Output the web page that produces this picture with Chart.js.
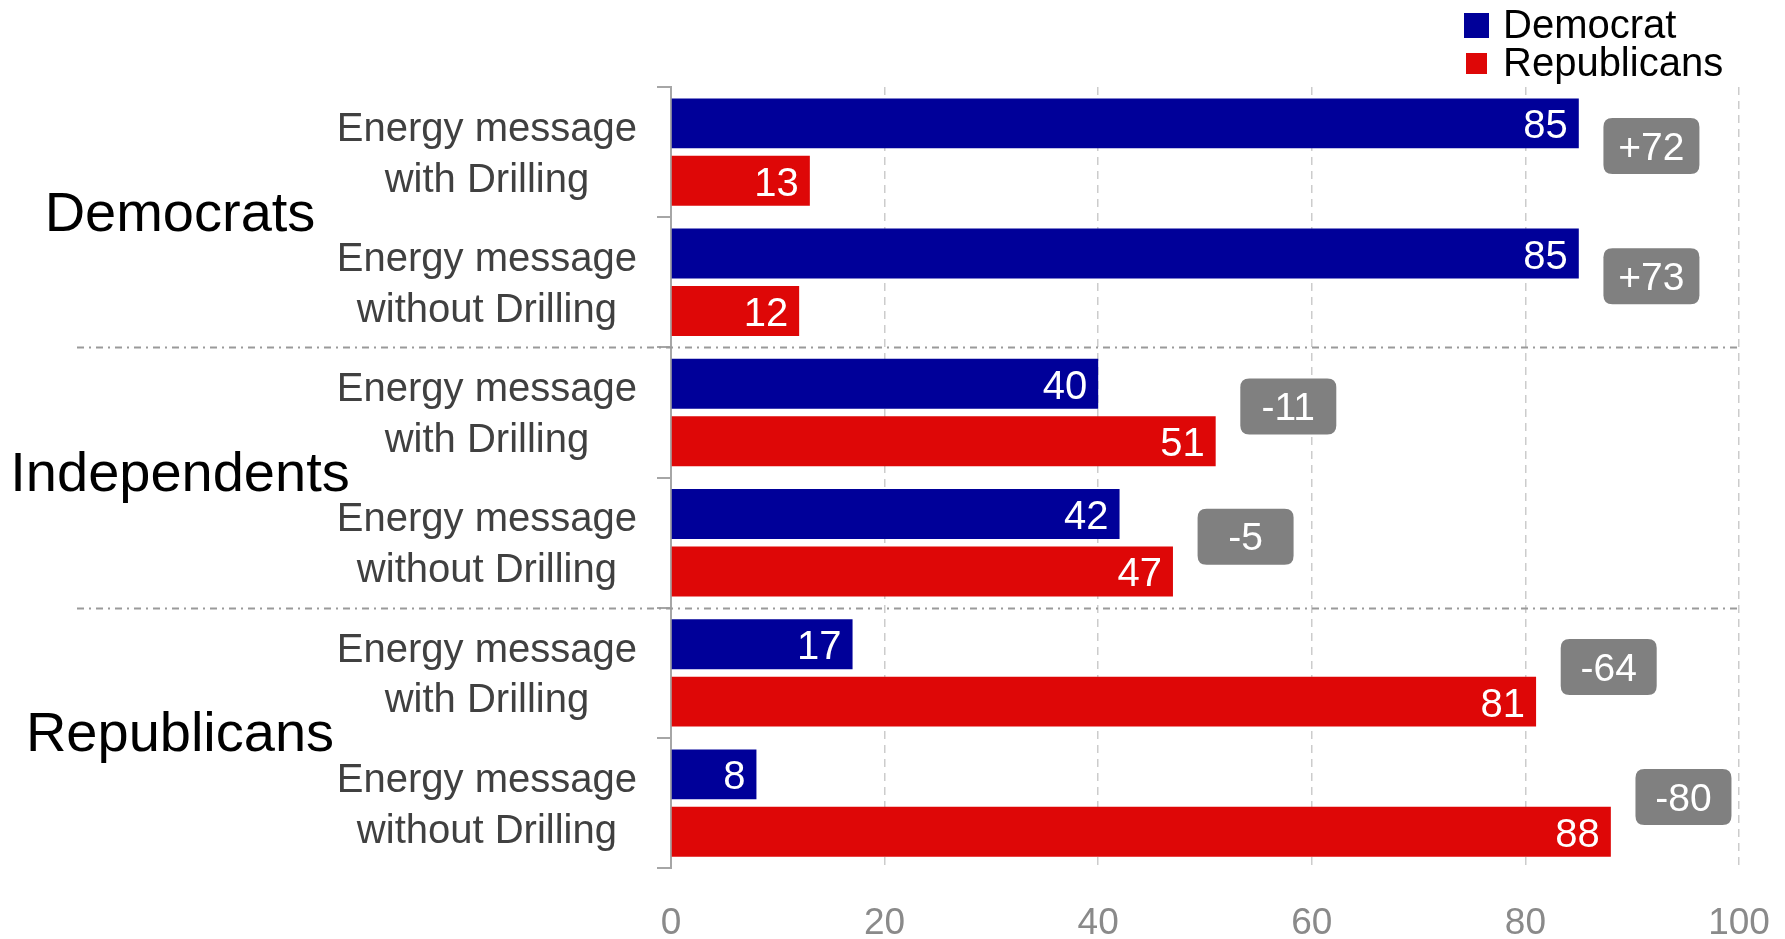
<!DOCTYPE html>
<html>
<head>
<meta charset="utf-8">
<script src="https://cdn.jsdelivr.net/npm/chart.js@4/dist/chart.umd.min.js"></script>
<style>
  html, body { margin: 0; padding: 0; background: #ffffff; }
  #wrap { width: 1785px; height: 939px; }
</style>
</head>
<body>
<div id="wrap"><canvas id="c" width="1785" height="939"></canvas></div>
<script>
// ---- data ----
const groups = ['Democrats', 'Independents', 'Republicans'];
const categories = [
  ['Energy message', 'with Drilling'],
  ['Energy message', 'without Drilling'],
  ['Energy message', 'with Drilling'],
  ['Energy message', 'without Drilling'],
  ['Energy message', 'with Drilling'],
  ['Energy message', 'without Drilling']
];
const seriesNames = ['Democrat', 'Republicans'];
const democratValues = [85, 85, 40, 42, 17, 8];
const republicanValues = [13, 12, 51, 47, 81, 88];
const xTickValues = [0, 20, 40, 60, 80, 100];

// ---- styling ----
const FONT = "'Liberation Sans', Arial, Helvetica, sans-serif";
const BLUE = '#000099';
const RED = '#DE0707';

function roundRect(ctx, x, y, w, h, r) {
  ctx.beginPath();
  ctx.moveTo(x + r, y);
  ctx.lineTo(x + w - r, y);
  ctx.quadraticCurveTo(x + w, y, x + w, y + r);
  ctx.lineTo(x + w, y + h - r);
  ctx.quadraticCurveTo(x + w, y + h, x + w - r, y + h);
  ctx.lineTo(x + r, y + h);
  ctx.quadraticCurveTo(x, y + h, x, y + h - r);
  ctx.lineTo(x, y + r);
  ctx.quadraticCurveTo(x, y, x + r, y);
  ctx.closePath();
}

const annotate = {
  id: 'annotate',
  afterDatasetsDraw(chart) {
    const ctx = chart.ctx;
    const xs = chart.scales.x, ys = chart.scales.y;
    const area = chart.chartArea;
    ctx.save();

    // values inside bars
    ctx.font = '40px ' + FONT;
    ctx.fillStyle = '#ffffff';
    ctx.textAlign = 'right';
    ctx.textBaseline = 'middle';
    chart.data.datasets.forEach((ds, di) => {
      chart.getDatasetMeta(di).data.forEach((bar, i) => {
        ctx.fillText(String(ds.data[i]), bar.x - 11, bar.y + 4);
      });
    });

    // difference boxes
    categories.forEach((c, i) => {
      const d = democratValues[i] - republicanValues[i];
      const label = (d > 0 ? '+' : '') + d;
      const cx = xs.getPixelForValue(Math.max(democratValues[i], republicanValues[i]) + 6.8);
      const cy = ys.getPixelForValue(i) - 6;
      ctx.fillStyle = '#808080';
      roundRect(ctx, cx - 48, cy - 28, 96, 56, 9);
      ctx.fill();
      ctx.fillStyle = '#ffffff';
      ctx.font = '39px ' + FONT;
      ctx.textAlign = 'center';
      ctx.textBaseline = 'middle';
      ctx.fillText(label, cx, cy + 3);
    });

    // group separators (dash-dot)
    ctx.strokeStyle = '#9a9a9a';
    ctx.lineWidth = 2;
    ctx.setLineDash([7, 5, 2, 5]);
    for (let g = 1; g < groups.length; g++) {
      const yy = Math.round((ys.getPixelForValue(2 * g - 1) + ys.getPixelForValue(2 * g)) / 2) + 0.5;
      ctx.beginPath();
      ctx.moveTo(77, yy);
      ctx.lineTo(area.right, yy);
      ctx.stroke();
    }
    ctx.setLineDash([]);

    // group labels
    ctx.fillStyle = '#000000';
    ctx.font = '56px ' + FONT;
    ctx.textAlign = 'center';
    ctx.textBaseline = 'middle';
    groups.forEach((g, gi) => {
      const yy = (ys.getPixelForValue(2 * gi) + ys.getPixelForValue(2 * gi + 1)) / 2 - 2;
      ctx.fillText(g, 180, yy);
    });

    // legend
    const lx = area.right - 275;
    ctx.fillStyle = BLUE;
    ctx.fillRect(lx, 13, 25, 25);
    ctx.fillStyle = RED;
    ctx.fillRect(lx + 2, 53, 21, 21);
    ctx.fillStyle = '#000000';
    ctx.font = '40px ' + FONT;
    ctx.textAlign = 'left';
    ctx.textBaseline = 'middle';
    ctx.fillText(seriesNames[0], lx + 39, 27);
    ctx.fillText(seriesNames[1], lx + 39, 65);

    ctx.restore();
  }
};

new Chart(document.getElementById('c'), {
  type: 'bar',
  data: {
    labels: categories,
    datasets: [
      { label: seriesNames[0], data: democratValues, backgroundColor: BLUE,
        categoryPercentage: 0.882, barPercentage: 0.87 },
      { label: seriesNames[1], data: republicanValues, backgroundColor: RED,
        categoryPercentage: 0.882, barPercentage: 0.87 }
    ]
  },
  options: {
    indexAxis: 'y',
    responsive: false,
    animation: false,
    devicePixelRatio: 1,
    layout: { padding: { top: 87, right: 46, bottom: 0, left: 0 } },
    plugins: {
      legend: { display: false },
      tooltip: { enabled: false },
      title: { display: false }
    },
    scales: {
      x: {
        min: 0, max: 100,
        afterBuildTicks(scale) { scale.ticks = xTickValues.map(v => ({ value: v })); },
        afterFit(scale) { scale.height = 70; },
        grid: { color: '#cccccc', lineWidth: 1.5, drawTicks: true, tickLength: 33, tickColor: 'rgba(0,0,0,0)' },
        border: { display: false, dash: [8, 6] },
        ticks: { color: '#8a8a8a', font: { family: FONT, size: 37 }, padding: 0 }
      },
      y: {
        afterFit(scale) { scale.width = 671; },
        grid: { display: true, drawOnChartArea: false, tickLength: 14, color: '#a6a6a6', lineWidth: 2, offset: true },
        border: { display: true, color: '#a6a6a6', width: 2 },
        ticks: { color: '#404040', font: { family: FONT, size: 40, lineHeight: 1.27 }, crossAlign: 'center', padding: 20, labelOffset: 3 }
      }
    }
  },
  plugins: [annotate]
});
</script>
</body>
</html>
